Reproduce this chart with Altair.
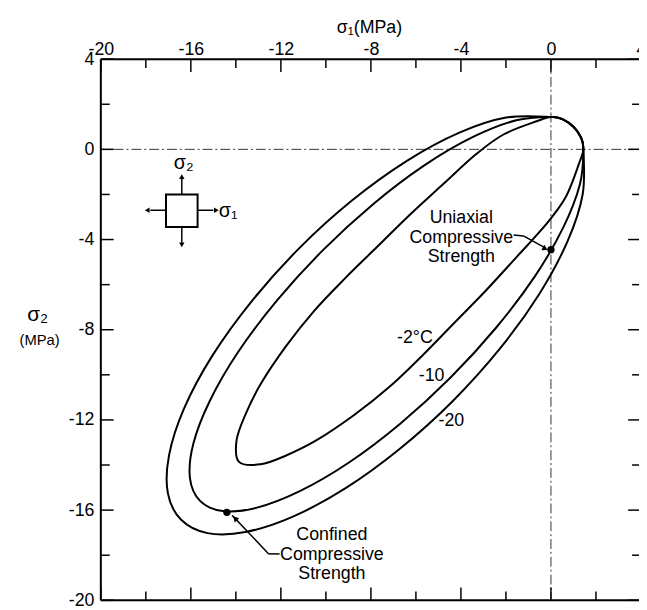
import altair as alt
import pandas as pd

# ---- data (sigma1, sigma2 in MPa); each loop is closed, starting on the shared tension corner ----
outer_x = [1.44, 1.32, 1.0, 0.55, 0.0, -1.99, -4.07, -6.40, -8.83, -11.18, -13.30, -15.05, -16.30, -16.97, -17.02, -16.43,
           -15.26, -13.57, -11.49, -9.16, -6.74, -4.38, -2.26, -0.51, 0.74, 1.41]
outer_y = [0.0, 0.55, 1.0, 1.32, 1.44, 1.41, 0.74, -0.51, -2.26, -4.38, -6.74, -9.16, -11.49, -13.57, -15.26, -16.43,
           -17.02, -16.97, -16.30, -15.05, -13.30, -11.18, -8.83, -6.40, -4.07, -1.99]

middle_x = [1.44, 1.32, 1.0, 0.55, 0.0, -1.54, -3.44, -5.61, -7.89, -10.13, -12.18, -13.90, -15.16, -15.89, -16.04, -15.59,
            -14.58, -13.06, -11.16, -8.99, -6.71, -4.47, -2.42, -0.70, 0.56, 1.29]
middle_y = [0.0, 0.55, 1.0, 1.32, 1.44, 1.29, 0.56, -0.70, -2.42, -4.47, -6.71, -8.99, -11.16, -13.06, -14.58, -15.59,
            -16.04, -15.89, -15.16, -13.90, -12.18, -10.13, -7.89, -5.61, -3.44, -1.54]

inner_x = [1.44, 1.32, 1.0, 0.55, 0.0, -0.57, -2.09, -3.32, -4.81, -6.28, -7.71, -9.14, -10.52, -11.77, -12.91, -13.61,
           -13.97, -13.86, -12.91, -11.84, -10.43, -8.73, -7.16, -5.71, -4.31, -2.91, -1.56, -0.21, 0.67, 1.27]
inner_y = [0.0, 0.55, 1.0, 1.32, 1.44, 1.27, 0.67, -0.21, -1.56, -2.91, -4.31, -5.71, -7.16, -8.73, -10.43, -11.84,
           -12.91, -13.86, -13.97, -13.61, -12.91, -11.77, -10.52, -9.14, -7.71, -6.28, -4.81, -3.32, -2.09, -0.57]

curve_names = ["-20", "-10", "-2"]

strength_x = [0.0, -14.4]
strength_y = [-4.45, -16.1]

major_ticks = [-20, -16, -12, -8, -4, 0, 4]
minor_ticks = [-18, -14, -10, -6, -2, 2]

# ---- tables ----
rows = []
for name, xs, ys in zip(curve_names, [outer_x, middle_x, inner_x], [outer_y, middle_y, inner_y]):
    for i, (a, b) in enumerate(zip(xs, ys)):
        rows.append({"curve": name, "i": i, "s1": a, "s2": b})
curves_df = pd.DataFrame(rows)
pts_df = pd.DataFrame({"s1": strength_x, "s2": strength_y})
major_df = pd.DataFrame({"v": major_ticks})
minor_df = pd.DataFrame({"v": minor_ticks})
zero_df = pd.DataFrame({"v": [0]})

W, H = 545, 548
FONT = "Liberation Sans"
xscale = alt.Scale(domain=[-20, 4], range=[0, 547], nice=False, zero=False)
yscale = alt.Scale(domain=[-20, 4], range=[H, 0], nice=False, zero=False)

x_axis = alt.Axis(orient="top", values=major_ticks, title=None, labelExpr="'' + datum.value",
                  domain=False, ticks=False, tickSize=0, grid=False, labelFont=FONT,
                  labelFontSize=18, labelColor="black", labelPadding=1, labelFlush=False,
                  labelOverlap=False)
y_axis = alt.Axis(orient="left", values=major_ticks, title=None, labelExpr="'' + datum.value",
                  domain=False, ticks=False, tickSize=0, grid=False, labelFont=FONT,
                  labelFontSize=18, labelColor="black", labelPadding=7, labelFlush=False,
                  labelOverlap=False)


def X(field):
    return alt.X(field, scale=xscale, axis=x_axis)


def Y(field):
    return alt.Y(field, scale=yscale, axis=y_axis)


curves = alt.Chart(curves_df).mark_line(interpolate="cardinal-closed", color="black", strokeWidth=2).encode(
    x=X("s1:Q"), y=Y("s2:Q"), detail="curve:N", order="i:Q")

pts = alt.Chart(pts_df).mark_circle(size=55, color="black", opacity=1).encode(x=X("s1:Q"), y=Y("s2:Q"))

dash_style = dict(strokeDash=[10, 3, 2, 3], strokeWidth=1, color="#333")
vzero = alt.Chart(zero_df).mark_rule(**dash_style).encode(x=X("v:Q"))
hzero = alt.Chart(zero_df).mark_rule(**dash_style).encode(y=Y("v:Q"))


def xticks(df, size):
    top = alt.Chart(df).mark_rule(color="black", strokeWidth=1.5).encode(
        x=X("v:Q"), y=alt.value(0), y2=alt.value(size))
    bot = alt.Chart(df).mark_rule(color="black", strokeWidth=1.5).encode(
        x=X("v:Q"), y=alt.value(H), y2=alt.value(H - size))
    return [top, bot]


def yticks(df, size):
    left = alt.Chart(df).mark_rule(color="black", strokeWidth=1.5).encode(
        y=Y("v:Q"), x=alt.value(0), x2=alt.value(size))
    right = alt.Chart(df).mark_rule(color="black", strokeWidth=1.5).encode(
        y=Y("v:Q"), x=alt.value(547), x2=alt.value(547 - size))
    return [left, right]


base = alt.Chart(zero_df)
frame = [
    base.mark_rule(color="black", strokeWidth=2).encode(x=alt.value(0), x2=alt.value(W + 5), y=alt.value(0)),
    base.mark_rule(color="black", strokeWidth=2).encode(x=alt.value(0), x2=alt.value(W + 5), y=alt.value(H)),
    base.mark_rule(color="black", strokeWidth=2).encode(x=alt.value(0), y=alt.value(0), y2=alt.value(H)),
]


def txt(s, x, y, size=18):
    return base.mark_text(font=FONT, fontSize=size, color="black", align="center", baseline="middle").encode(
        x=alt.value(x), y=alt.value(y), text=alt.value(s))


def seg(x1, y1, x2, y2, w=1.5):
    return base.mark_rule(color="black", strokeWidth=w).encode(
        x=alt.value(x1), y=alt.value(y1), x2=alt.value(x2), y2=alt.value(y2))


def head(x, y, shape, angle=0, size=30):
    return base.mark_point(shape=shape, filled=True, color="black", opacity=1, size=size, angle=angle).encode(
        x=alt.value(x), y=alt.value(y))


annots = [
    # axis titles
    txt("σ₁(MPa)", 272, -32, size=18),
    txt("σ₂", -64, 259, size=21),
    txt("(MPa)", -62, 284, size=15),
    # curve labels
    txt("-2°C", 318, 282),
    txt("-10", 335, 321),
    txt("-20", 355, 366),
    # uniaxial annotation
    txt("Uniaxial", 365, 161), txt("Compressive", 365, 181), txt("Strength", 365, 200),
    seg(418, 178, 428, 179), seg(428, 179, 450, 191),
    head(450, 192, "triangle-up", angle=119, size=40),
    # confined annotation
    txt("Confined", 234, 482), txt("Compressive", 234, 502), txt("Strength", 234, 521),
    seg(133, 462, 170, 501), seg(170, 501, 181, 501),
    head(136, 465, "triangle-up", angle=317, size=40),
    # stress element
    base.mark_rect(fill="white", stroke="black", strokeWidth=2).encode(
        x=alt.value(66), x2=alt.value(98), y=alt.value(137), y2=alt.value(170)),
    seg(82, 137, 82, 121), head(82, 119, "triangle-up"),
    seg(82, 170, 82, 186), head(82, 188, "triangle-down"),
    seg(66, 153, 50, 153), head(47, 153, "triangle-left"),
    seg(98, 153, 114, 153), head(117, 153, "triangle-right"),
    txt("σ₂", 84, 105, size=20),
    txt("σ₁", 129, 154, size=20),
]

layers = [hzero, vzero] + xticks(major_df, 13) + xticks(minor_df, 9) + yticks(major_df, 13) + yticks(minor_df, 9) \
    + frame + [curves, pts] + annots

chart = alt.layer(*layers).properties(
    width=W, height=H,
    autosize=alt.AutoSizeParams(type="none"),
    padding={"left": 94, "top": 48, "right": 0, "bottom": 6},
).configure_view(stroke=None).configure(background="white")

chart.save("out.html", embed_options={"renderer": "svg", "actions": False})
